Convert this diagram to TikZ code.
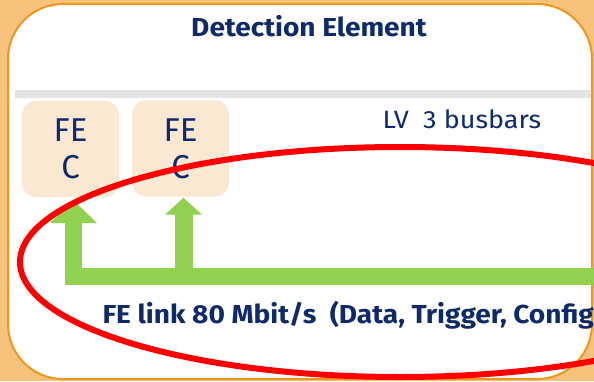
\documentclass[tikz,border=0pt]{standalone}
\usepackage{fontspec}
\setmainfont{Fira Sans}
\newfontfamily\widesans{Fira Sans}[FakeStretch=1.08]
\usetikzlibrary{arrows.meta}
\definecolor{navy}{HTML}{0E2A6B}
\definecolor{bgorange}{HTML}{F6C27C}
\definecolor{rimorange}{HTML}{F0961C}
\definecolor{fecfill}{HTML}{FBE8D2}
\definecolor{linkgreen}{HTML}{92D050}
\definecolor{busgray}{HTML}{E4E4E4}
\begin{document}
\begin{tikzpicture}[x=1pt,y=1pt,
    fecbox/.style={fill=fecfill,rounded corners=14pt,minimum width=97pt,minimum height=96pt,
      inner sep=0pt,align=center,text=navy,font=\fontsize{33}{37}\selectfont},
    bold26/.style={text=navy,font=\widesans\bfseries\fontsize{26}{30}\selectfont},
    link/.style={draw=linkgreen,line width=17pt}]
  \useasboundingbox (0,0) rectangle (594,381);
  \clip (0,0) rectangle (594,381);
  \fill[bgorange] (0,0) rectangle (594,381);
  \draw[rimorange,fill=white,line width=2pt,rounded corners=55pt] (8,2) rectangle (592,377);
  \node[bold26,anchor=base] (title) at (309,344) {Detection Element};
  % LV bus
  \fill[busgray] (15,283) rectangle (591,291);
  \node[anchor=base west,text=navy,font=\widesans\fontsize{25}{30}\selectfont] (lv) at (379,253) {LV~~3 busbars};
  % front-end cards
  \node[fecbox] (fec1) at (70.5,232) {FE\\C};
  \node[fecbox] (fec2) at (180.5,232.5) {FE\\C};
  % FE link
  \coordinate (busR) at (600,105);
  \coordinate (tip1) at ([shift={(3,-3)}]fec1.south);
  \coordinate (tip2) at ([shift={(3,-1)}]fec2.south);
  \draw[link,-{Triangle[width=46pt,length=23pt]}] (busR) -| (tip1);
  \draw[link,line width=18pt,-{Triangle[width=36pt,length=17pt]}] (tip2 |- busR) -- (tip2);
  \node[bold26,anchor=base west] (linklbl) at (99,58) {FE link 80 Mbit/s~~(Data, Trigger, Config};
  \draw[red,line width=6pt] (400,119) ellipse [x radius=380, y radius=115];
\end{tikzpicture}
\end{document}
